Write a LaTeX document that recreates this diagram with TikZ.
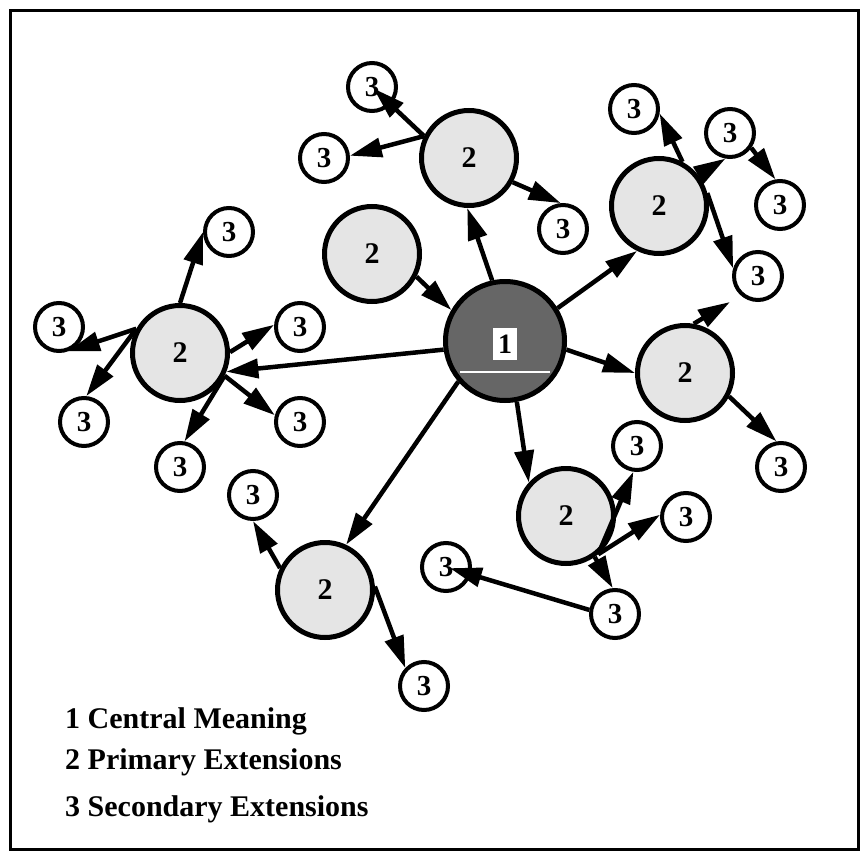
\documentclass[tikz,border=0pt]{standalone}
\usepackage{fontspec}
\setmainfont{Liberation Serif}
\usetikzlibrary{arrows.meta}
\begin{document}
\begin{tikzpicture}[x=1pt,y=-1pt,
  prim/.style={circle,draw,line width=5pt,fill=black!10,minimum size=95pt,inner sep=0pt,font=\bfseries\fontsize{30}{30}\selectfont},
  sec/.style={circle,draw,line width=4pt,fill=white,minimum size=48pt,inner sep=0pt,font=\bfseries\fontsize{29}{29}\selectfont},
  cen/.style={circle,draw,line width=5pt,fill=black!60,minimum size=119pt,inner sep=0pt},
  link/.style={line width=4.5pt,-{Triangle[length=32pt,width=19pt]}},
  legend/.style={anchor=base west,font=\bfseries\fontsize{30}{30}\selectfont,inner sep=0pt}
]
\useasboundingbox (0,0) rectangle (867,853);
\draw[line width=3pt] (10,11) rectangle (858,849);

% central node
\node[cen] (c1) at (505,341) {};
\draw[white,line width=2.5pt] (460,372) -- (550,372);
\node[fill=white,inner sep=0pt,minimum width=24pt,minimum height=32pt,font=\bfseries\fontsize{28}{28}\selectfont] (one) at (505,344) {1};

% primary extensions
\node[prim] (P1) at (469,158) {2};
\node[prim] (P2) at (372,254) {2};
\node[prim] (P3) at (659,206) {2};
\node[prim] (P4) at (180,353) {2};
\node[prim] (P5) at (685,373) {2};
\node[prim] (P6) at (566,516) {2};
\node[prim] (P7) at (325,590) {2};

% secondary extensions
\node[sec] (s1) at (372,87) {3};
\node[sec] (s2) at (324,158) {3};
\node[sec] (s3) at (563,229) {3};
\node[sec] (s4) at (634,109) {3};
\node[sec] (s5) at (730,133) {3};
\node[sec] (s6) at (780,205) {3};
\node[sec] (s7) at (758,276) {3};
\node[sec] (s8) at (781,467) {3};
\node[sec] (s9) at (229,232) {3};
\node[sec] (s10) at (59,327) {3};
\node[sec] (s11) at (300,327) {3};
\node[sec] (s12) at (84,422) {3};
\node[sec] (s13) at (300,422) {3};
\node[sec] (s14) at (180,467) {3};
\node[sec] (s15) at (253,495) {3};
\node[sec] (s16) at (424,686) {3};
\node[sec] (s17) at (637,446) {3};
\node[sec] (s18) at (686,517) {3};
\node[sec] (s19) at (446,567) {3};
\node[sec] (s20) at (615,614) {3};
\coordinate (tipR) at (730,302);

% central links
\draw[link] (c1.102) -- (P1.-92);
\draw[link] (P2.-27) -- (c1.150);
\draw[link] (c1.32) -- (P3.-116);
\draw[link] (c1.-8) -- (P5.180);
\draw[link] (c1.-79) -- (P6.138);
\draw[link] (c1.-139) -- (P7.65);
\draw[link] (c1.-172) -- (P4.-22);

% top cluster
\draw[link,shorten >=2pt] (P1.154) -- (s1.center);
\draw[link] (P1.154) -- (s2.5);
\draw[link] (P1.-29) -- (s3.95);

% top-right cluster
\draw[link] (P3.62) -- (s4.-10);
\draw[link] (P3.38) -- (s5.-100);
\draw[link] (s5.-35) -- (s6.100);
\draw[link] (P3.15) -- (s7.163);

% right cluster
\draw[link] (P5.-28) -- (s8.100);
\draw[link] (P5.80) -- (tipR);

% left cluster
\draw[link] (P4.90) -- (s9.180);
\draw[link] (P4.151) -- (s10.-70);
\draw[link] (P4.151) -- (s12.85);
\draw[link] (P4.1) -- (s11.175);
\draw[link] (P4.-27) -- (s13.165);
\draw[link] (P4.-27) -- (s14.80);

% bottom-left cluster
\draw[link] (P7.154) -- (s15.-90);
\draw[link] (P7.4) -- (s16.136);

% bottom-middle cluster
\draw[link] (P6.-50) -- (s17.-98);
\draw[link] (P6.-50) -- (s18.175);
\draw[link] (P6.-55) -- (s20.95);
\draw[link,shorten >=4pt] (s20.171) -- (s19.center);

% legend
\node[legend] (L1) at (65,728) {1 Central Meaning};
\node[legend] (L2) at (65,769) {2 Primary Extensions};
\node[legend] (L3) at (65,816) {3 Secondary Extensions};
\end{tikzpicture}
\end{document}
